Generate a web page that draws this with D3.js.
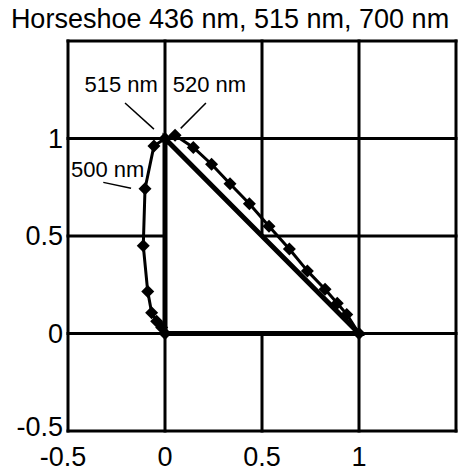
<!DOCTYPE html>
<html>
<head>
<meta charset="utf-8">
<script src="https://cdn.jsdelivr.net/npm/d3@7"></script>
<style>
  html, body { margin: 0; padding: 0; background: #fff; }
  svg { display: block; font-family: "Liberation Sans", Arial, sans-serif; }
</style>
</head>
<body>
<svg id="chart" width="460" height="471"></svg>
<script>
// ---- data ----
const titleText = "Horseshoe 436 nm, 515 nm, 700 nm";
const xTicks = [-0.5, 0, 0.5, 1];
const yTicks = [-0.5, 0, 0.5, 1];
const gridValues = [-0.5, 0, 0.5, 1, 1.5];
const locusX = [0, -0.017, -0.043, -0.069, -0.089, -0.112, -0.103, -0.057, 0, 0.052, 0.146, 0.24, 0.335, 0.435, 0.536, 0.641, 0.734, 0.825, 0.888, 0.937, 1];
const locusY = [0, 0.031, 0.063, 0.107, 0.215, 0.45, 0.742, 0.962, 1, 1.017, 0.954, 0.868, 0.768, 0.665, 0.55, 0.433, 0.321, 0.227, 0.155, 0.098, 0];
const triangleX = [0, 1, 0];
const triangleY = [0, 0, 1];
const labelTexts = ["515 nm", "520 nm", "500 nm"];
const labelX = [-0.415, 0.04, -0.485];
const labelY = [1.236, 1.236, 0.804];
const leaderX1 = [-0.206, 0.211, -0.318];
const leaderY1 = [1.182, 1.182, 0.775];
const leaderX2 = [-0.057, 0.081, -0.175];
const leaderY2 = [1.048, 1.052, 0.745];

// ---- drawing ----
const svg = d3.select("#chart");
const x = d3.scaleLinear().domain([-0.5, 1.5]).range([68, 456]);
const y = d3.scaleLinear().domain([-0.5, 1.5]).range([431, 41]);
const fmt = d => d3.format("")(d).replace("−", "-");

svg.append("text")
  .attr("x", 230).attr("y", 28)
  .attr("text-anchor", "middle")
  .attr("font-size", 27)
  .text(titleText);

// grid
const grid = svg.append("g").attr("stroke", "#000").attr("stroke-width", 3).attr("stroke-linecap", "square");
grid.selectAll("line.v").data(gridValues).join("line")
  .attr("class", "v")
  .attr("x1", d => x(d)).attr("x2", d => x(d))
  .attr("y1", y(-0.5)).attr("y2", y(1.5));
grid.selectAll("line.h").data(gridValues).join("line")
  .attr("class", "h")
  .attr("y1", d => y(d)).attr("y2", d => y(d))
  .attr("x1", x(-0.5)).attr("x2", x(1.5));

// tick labels
svg.append("g").selectAll("text").data(yTicks).join("text")
  .attr("x", 63).attr("y", d => y(d) + (d < 0 ? 4.5 : 9))
  .attr("text-anchor", "end")
  .attr("font-size", 27)
  .text(fmt);
svg.append("g").selectAll("text").data(xTicks).join("text")
  .attr("x", d => x(d) - (d < 0 ? 5 : 0)).attr("y", 466)
  .attr("text-anchor", "middle")
  .attr("font-size", 27)
  .text(fmt);

// triangle (white filled)
const triPts = triangleX.map((v, i) => [x(v), y(triangleY[i])]);
svg.append("path")
  .attr("d", d3.line()(triPts) + "Z")
  .attr("fill", "#fff")
  .attr("stroke", "#000")
  .attr("stroke-width", 5)
  .attr("stroke-linejoin", "miter");

// horseshoe locus
const locPts = locusX.map((v, i) => [x(v), y(locusY[i])]);
svg.append("path")
  .attr("d", d3.line()(locPts))
  .attr("fill", "none")
  .attr("stroke", "#000")
  .attr("stroke-width", 3)
  .attr("stroke-linejoin", "round");
svg.append("g").selectAll("path").data(locPts).join("path")
  .attr("transform", d => `translate(${d[0]},${d[1]})`)
  .attr("d", "M0,-6.5L6.5,0L0,6.5L-6.5,0Z")
  .attr("fill", "#000");

// annotations
const ann = svg.append("g");
ann.selectAll("line").data(labelTexts).join("line")
  .attr("x1", (d, i) => x(leaderX1[i])).attr("y1", (d, i) => y(leaderY1[i]))
  .attr("x2", (d, i) => x(leaderX2[i])).attr("y2", (d, i) => y(leaderY2[i]))
  .attr("stroke", "#000").attr("stroke-width", 1.5);
ann.selectAll("text").data(labelTexts).join("text")
  .attr("x", (d, i) => x(labelX[i])).attr("y", (d, i) => y(labelY[i]))
  .attr("font-size", 22)
  .text(d => d);
</script>
</body>
</html>
